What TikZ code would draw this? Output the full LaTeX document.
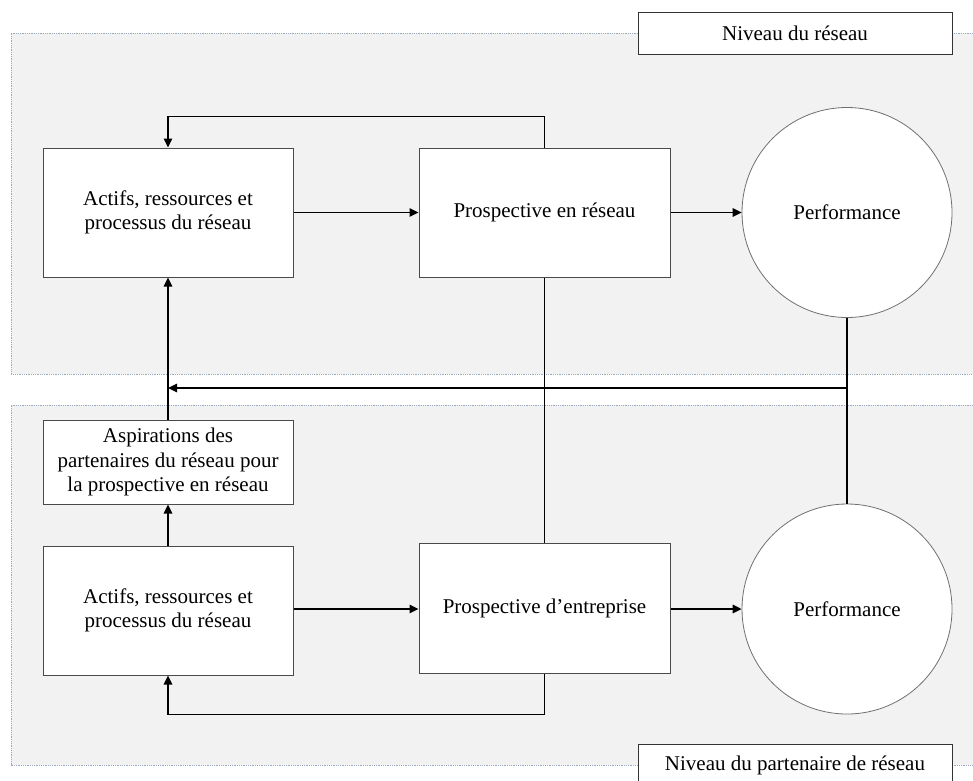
\documentclass[tikz,border=0pt]{standalone}
\usepackage{fontspec}
\setmainfont{Liberation Serif}
\usetikzlibrary{arrows.meta}
\definecolor{regfill}{HTML}{F2F2F2}
\definecolor{regline}{HTML}{9AA8C0}
\definecolor{boxline}{HTML}{4A4A4A}
\definecolor{circline}{HTML}{707070}
\begin{document}
\begin{tikzpicture}[x=1pt,y=-1pt,
  txt/.style={font=\fontsize{21}{24.3}\selectfont, align=center, text=black},
  boxnode/.style={txt, draw=boxline, line width=1pt, fill=white, inner sep=0pt, minimum width=250pt, minimum height=129pt},
  perfnode/.style={txt, draw=circline, line width=0.8pt, fill=white, circle, inner sep=0pt, minimum size=210pt},
  labelnode/.style={txt, draw=black!80, line width=1pt, fill=white, inner sep=0pt, minimum width=314pt, minimum height=42pt},
  conn/.style={draw=black, line width=1.6pt},
  arr/.style={conn, -{Triangle[length=9pt,width=8.5pt]}},
  regborder/.style={draw=regline, line width=0.8pt, densely dotted}
]
\clip (0,0) rectangle (973,780);
\useasboundingbox (0,0) rectangle (973,780);
\fill[white] (0,0) rectangle (973,780);

% regions
\fill[regfill] (11,33) rectangle (980,374);
\draw[regborder] (980,33) -- (11,33) -- (11,374) -- (980,374);
\fill[regfill] (11,405) rectangle (980,765);
\draw[regborder] (980,405) -- (11,405) -- (11,765) -- (980,765);

% nodes
\node[boxnode] (a1) at (168,212.5) {Actifs, ressources et\\processus du réseau};
\node[boxnode, minimum width=251pt] (p1) at (544.5,212.5) {Prospective en réseau};
\node[perfnode] (f1) at (847,212.5) {Performance};
\node[boxnode, minimum height=84pt] (asp) at (168,462) {Aspirations des\\partenaires du réseau pour\\la prospective en réseau};
\node[boxnode] (a2) at (168,610.5) {Actifs, ressources et\\processus du réseau};
\node[boxnode, minimum width=251pt, minimum height=130pt] (p2) at (544.5,608) {Prospective d’entreprise};
\node[perfnode] (f2) at (847,609) {Performance};
\node[labelnode] (l1) at (795,33) {Niveau du réseau};
\node[labelnode] (l2) at (795,765) {Niveau du partenaire de réseau};

% connectors
\draw[arr] (a1.east) -- (p1.west);
\draw[arr] (p1.east) -- (f1.west);
\draw[arr] (p1.north) -- ++(0,-31) -| (a1.north);
\draw[conn] (p1.south) -- (p2.north);
\draw[conn] (f1.south) -- (f2.north);
\coordinate (hr) at (f1.south |- 0,388);
\coordinate (hl) at (a1.south |- 0,388);
\draw[arr] (hr) -- (hl);
\draw[arr] (asp.north) -- (a1.south);
\draw[arr] (a2.north) -- (asp.south);
\draw[arr] (a2.east |- f2.west) -- (p2.west |- f2.west);
\draw[arr] (p2.east |- f2.west) -- (f2.west);
\draw[arr] (p2.south) -- ++(0,41) -| (a2.south);
\end{tikzpicture}
\end{document}
